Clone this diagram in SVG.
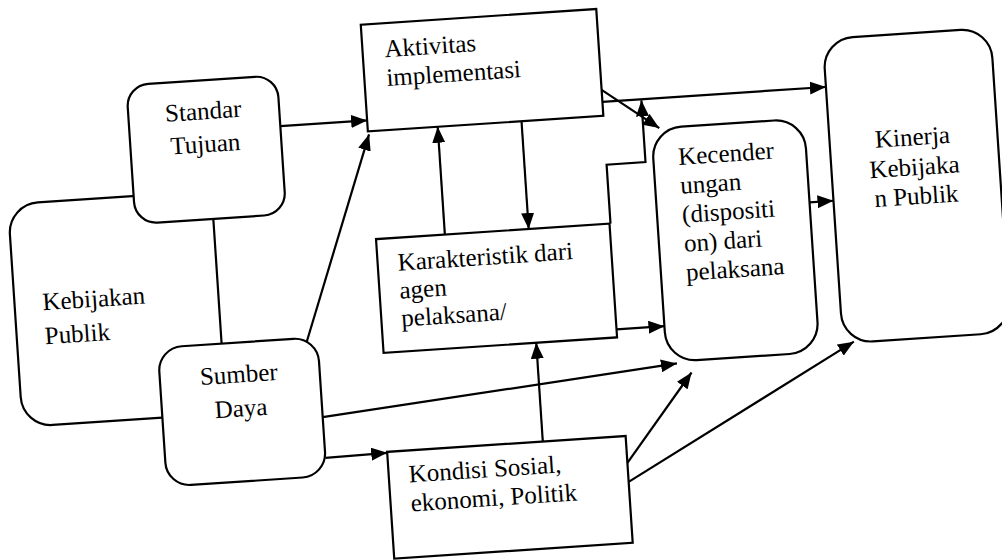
<svg xmlns="http://www.w3.org/2000/svg" width="1002" height="560" viewBox="0 0 1002 560">
<style>
.box{fill:#fff;stroke:#000;stroke-width:2.2}
.t{font-family:"Liberation Serif","Times New Roman",serif;font-size:25px;fill:#000}
.c{text-anchor:middle}
.ln{fill:none;stroke:#000;stroke-width:2.2}
.ar{marker-end:url(#ah)}
</style>
<defs>
<marker id="ah" markerUnits="userSpaceOnUse" markerWidth="17" markerHeight="13" refX="16" refY="6.5" orient="auto">
<path d="M0,0 L16,6.5 L0,13 z" fill="#000"/>
</marker>
</defs>
<rect width="1002" height="560" fill="#fff"/>
<g transform="rotate(-3.8 500 280)">
<g id="kebijakan">
<rect class="box" x="14" y="172" width="204" height="223" rx="30"/>
<text class="t" x="42" y="280">Kebijakan</text>
<text class="t" x="42" y="314">Publik</text>
</g>
<g id="standar">
<rect class="box" x="140" y="61" width="151" height="139" rx="22"/>
<text class="t c" x="215" y="100">Standar</text>
<text class="t c" x="215" y="133">Tujuan</text>
</g>
<g id="sumber">
<rect class="box" x="154" y="325" width="160" height="139" rx="24"/>
<text class="t c" x="233" y="365">Sumber</text>
<text class="t c" x="233" y="399">Daya</text>
</g>
<g id="aktivitas">
<rect class="box" x="378" y="16" width="236" height="107"/>
<text class="t" x="400" y="50">Aktivitas</text>
<text class="t" x="400" y="79">implementasi</text>
</g>
<g id="karakteristik">
<rect class="box" x="379" y="231" width="234" height="114"/>
<text class="t" x="399" y="264">Karakteristik dari</text>
<text class="t" x="399" y="292">agen</text>
<text class="t" x="399" y="320">pelaksana/</text>
</g>
<g id="kondisi">
<rect class="box" x="376" y="444" width="239" height="107"/>
<text class="t" x="396" y="476">Kondisi Sosial,</text>
<text class="t" x="396" y="505">ekonomi, Politik</text>
</g>
<g id="kecenderungan">
<rect class="box" x="661" y="139" width="153" height="234" rx="30"/>
<text class="t" x="686" y="177">Kecender</text>
<text class="t" x="686" y="206">ungan</text>
<text class="t" x="686" y="235">(dispositi</text>
<text class="t" x="686" y="264">on) dari</text>
<text class="t" x="686" y="293">pelaksana</text>
</g>
<g id="kinerja">
<rect class="box" x="838" y="61" width="168" height="305" rx="30"/>
<text class="t c" x="921" y="173">Kinerja</text>
<text class="t c" x="921" y="203">Kebijaka</text>
<text class="t c" x="921" y="232">n Publik</text>
</g>
<g id="connectors">
<path class="ln ar" d="M291 112 L378 112"/>
<path class="ln ar" d="M303 329 L379 126"/>
<path class="ln ar" d="M448 231 L448 123"/>
<path class="ln ar" d="M532 123 L532 231"/>
<path class="ln ar" d="M614 109 L838 109"/>
<path class="ln ar" d="M614 97 L669 139"/>
<path class="ln ar" d="M614 231 V172 H653 V110"/>
<path class="ln ar" d="M613 337 L661 337"/>
<path class="ln ar" d="M814 223 L838 223"/>
<path class="ln ar" d="M314 405 L671 375"/>
<path class="ln ar" d="M314 446 L376 445"/>
<path class="ln ar" d="M532 444 L532 345"/>
<path class="ln ar" d="M615 471 L685 385"/>
<path class="ln ar" d="M615 490 L849 365"/>
</g>
</g>
</svg>
